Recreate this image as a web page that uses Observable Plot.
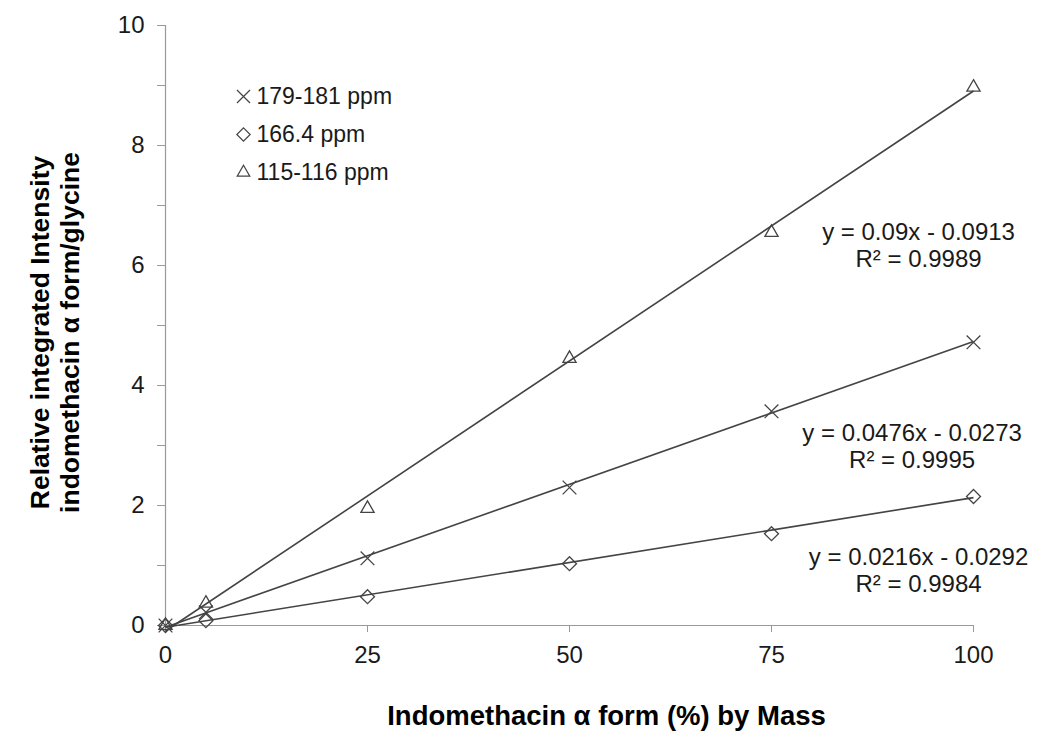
<!DOCTYPE html>
<html>
<head>
<meta charset="utf-8">
<script src="https://cdn.jsdelivr.net/npm/d3@7"></script>
<script src="https://cdn.jsdelivr.net/npm/@observablehq/plot@0.6"></script>
<style>
  html, body { margin: 0; padding: 0; background: #fff; }
  #chart svg { display: block; }
</style>
</head>
<body>
<div id="chart"></div>
<script>
// Indomethacin α form content (% by mass) of each calibration blend
const massPercent = [0, 5, 25, 50, 75, 100];

// Relative integrated intensity (α form / glycine) per NMR peak region
const peak179 = [0, 0.22, 1.12, 2.30, 3.57, 4.72];
const peak166 = [0, 0.08, 0.48, 1.03, 1.53, 2.15];
const peak115 = [0, 0.37, 1.95, 4.45, 6.55, 8.97];

const seriesNames = ["179-181 ppm", "166.4 ppm", "115-116 ppm"];
const seriesSymbols = ["times", "diamond2", "triangle2"];

// Linear least-squares fits printed beside each line
const slopes = [0.0476, 0.0216, 0.09];
const intercepts = [-0.0273, -0.0292, -0.0913];
const rSquared = [0.9995, 0.9984, 0.9989];
const equationX = [92.4, 93.2, 93.2];
const equationY = [3.0, 0.93, 6.35];

const xTicks = [0, 25, 50, 75, 100];
const yTicks = d3.range(0, 11, 1);

const seriesValues = [peak179, peak166, peak115];
const points = seriesNames.flatMap((name, i) =>
  massPercent.map((m, j) => ({series: name, symbol: seriesSymbols[i], x: m, y: seriesValues[i][j]}))
);
const fits = seriesNames.map((name, i) => ({
  series: name,
  x1: massPercent[0], y1: slopes[i] * massPercent[0] + intercepts[i],
  x2: massPercent[massPercent.length - 1], y2: slopes[i] * massPercent[massPercent.length - 1] + intercepts[i],
  label: `y = ${slopes[i]}x - ${Math.abs(intercepts[i])}\nR² = ${rSquared[i]}`,
  lx: equationX[i], ly: equationY[i]
}));

const ink = "#444";
const axisGray = "#999";
const textColor = "#1a1a1a";

const legendMarks = seriesNames.flatMap((name, i) => [
  Plot.dot([name], {frameAnchor: "top-left", dx: 78, dy: 71 + 38 * i, symbol: seriesSymbols[i], r: 6, stroke: ink, strokeWidth: 1.2, fill: "none"}),
  Plot.text([name], {frameAnchor: "top-left", dx: 91, dy: 71 + 38 * i, text: d => d, textAnchor: "start", lineAnchor: "middle", fontSize: 23, fill: textColor})
]);

const chart = Plot.plot({
  width: 1047,
  height: 731,
  marginLeft: 165,
  marginRight: 74,
  marginTop: 25,
  marginBottom: 106,
  x: {domain: [0, 100]},
  y: {domain: [0, 10]},
  style: {fontFamily: "'Liberation Sans', Arial, sans-serif", background: "#fff", color: textColor},
  marks: [
    Plot.axisX({ticks: xTicks, tickSize: 7, tickPadding: 13, fontSize: 24, stroke: axisGray, fill: textColor, label: null}),
    Plot.axisY({ticks: yTicks, tickFormat: d => d % 2 === 0 ? d : "", tickSize: 8, tickPadding: 13, fontSize: 24, stroke: axisGray, fill: textColor, label: null}),
    Plot.ruleX([0], {stroke: axisGray, strokeWidth: 1.2}),
    Plot.ruleY([0], {stroke: axisGray, strokeWidth: 1.2}),
    Plot.link(fits, {x1: "x1", y1: "y1", x2: "x2", y2: "y2", stroke: ink, strokeWidth: 1.6}),
    Plot.dot(points, {x: "x", y: "y", symbol: "symbol", r: 6.3, stroke: ink, strokeWidth: 1.3, fill: "none"}),
    Plot.text(fits, {x: "lx", y: "ly", text: "label", fontSize: 24, lineHeight: 1.15, fill: textColor}),
    ...legendMarks,
    Plot.text(["Relative integrated Intensity\nindomethacin α form/glycine"], {
      frameAnchor: "left", dx: -111, dy: 7, rotate: -90, textAnchor: "middle", lineAnchor: "middle",
      text: d => d, fontSize: 26.5, fontWeight: "bold", lineHeight: 1.15, fill: "#000"
    }),
    Plot.text(["Indomethacin α form (%) by Mass"], {
      frameAnchor: "bottom", dx: 37, dy: 99, text: d => d, fontSize: 27.5, fontWeight: "bold", fill: "#000"
    })
  ]
});

document.getElementById("chart").appendChild(chart);
</script>
</body>
</html>
